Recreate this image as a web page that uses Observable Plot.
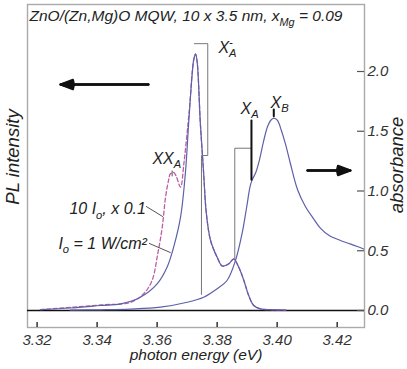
<!DOCTYPE html>
<html><head><meta charset="utf-8">
<script src="https://cdn.jsdelivr.net/npm/d3@7"></script>
<script src="https://cdn.jsdelivr.net/npm/@observablehq/plot@0.6"></script>
<style>
html,body{margin:0;padding:0;background:#fff}
#chart svg text, #chart svg tspan{font-style:italic}
</style>
</head><body><div id="chart"></div>
<script>
// ---- axis ticks ----
const xTicks = [3.32, 3.34, 3.36, 3.38, 3.40, 3.42];
const yTicks = [0, 0.5, 1.0, 1.5, 2.0];

// ---- PL spectrum, I0 = 1 W/cm^2 (solid) ----
const plE = [3.3211, 3.3311, 3.3411, 3.3478, 3.3544, 3.3600, 3.3633, 3.3655, 3.3678, 3.3694, 3.3705, 3.3717, 3.3722, 3.3728, 3.3733, 3.3744, 3.3755, 3.3764, 3.3778, 3.3800, 3.3817, 3.3839, 3.3855, 3.3872, 3.3889, 3.3905, 3.3922, 3.3944, 3.3978, 3.4028];
const plV = [0.008, 0.021, 0.042, 0.056, 0.111, 0.223, 0.362, 0.530, 0.781, 1.146, 1.565, 1.983, 2.10, 2.148, 2.09, 1.565, 1.146, 0.812, 0.586, 0.446, 0.372, 0.391, 0.431, 0.362, 0.251, 0.126, 0.042, 0.014, 0.007, 0.004];

// ---- PL spectrum, 10 I0 scaled x 0.1 (dashed) ----
const pl10E = [3.3211, 3.3411, 3.3511, 3.3555, 3.3583, 3.3602, 3.3617, 3.3628, 3.3638, 3.3644, 3.3655, 3.3664, 3.3678, 3.3689, 3.3699, 3.3708, 3.3717, 3.3722, 3.3728, 3.3733, 3.3744, 3.3755, 3.3764, 3.3778, 3.3800, 3.3817, 3.3839, 3.3855, 3.3872, 3.3889, 3.3905, 3.3922, 3.3944, 3.3978, 3.4028];
const pl10V = [0.008, 0.046, 0.069, 0.140, 0.251, 0.474, 0.697, 0.948, 1.088, 1.144, 1.155, 1.121, 1.032, 1.228, 1.464, 1.70, 2.00, 2.10, 2.145, 2.09, 1.565, 1.146, 0.812, 0.586, 0.446, 0.372, 0.391, 0.431, 0.362, 0.251, 0.126, 0.042, 0.014, 0.007, 0.004];

// ---- absorbance ----
const absE = [3.3311, 3.3411, 3.3511, 3.3611, 3.3700, 3.3755, 3.3800, 3.3833, 3.3861, 3.3883, 3.3898, 3.3910, 3.3917, 3.3928, 3.3940, 3.3955, 3.3968, 3.3978, 3.3989, 3.4001, 3.4014, 3.4028, 3.4044, 3.4068, 3.4094, 3.4122, 3.4144, 3.4172, 3.4211, 3.4267, 3.4288];
const absV = [0.003, 0.006, 0.012, 0.028, 0.069, 0.111, 0.182, 0.251, 0.418, 0.644, 0.860, 1.040, 1.095, 1.150, 1.250, 1.420, 1.540, 1.590, 1.610, 1.590, 1.506, 1.390, 1.230, 1.010, 0.870, 0.765, 0.690, 0.630, 0.586, 0.536, 0.515];

// ---- annotation lines (energy eV, value) ----
const markerId = ["XAm","XAm","XAm","XAm","XAm", "XApl","XApl","XApl"];
const markerE  = [3.37243, 3.37687, 3.37687, 3.37477, 3.37477, 3.38587, 3.38587, 3.39143];
const markerV  = [2.233, 2.233, 1.297, 1.297, 0.135, 0.430, 1.358, 1.358];

const strongId = ["XA","XA","XB","XB"];
const strongE  = [3.39143, 3.39143, 3.39887, 3.39887];
const strongV  = [1.590, 1.094, 1.682, 1.625];

const leaderId = ["L1","L1","L2","L2","XX","XX"];
const leaderE  = [3.3564, 3.3618, 3.3574, 3.3644, 3.3650, 3.3650];
const leaderV  = [0.870, 0.787, 0.561, 0.485, 1.168, 1.126];

// ---- arrows (PL axis to the left, absorbance axis to the right) ----
const arrowE1 = [3.3571, 3.4101];
const arrowE2 = [3.3278, 3.4244];
const arrowV  = [1.891, 1.172];
const headAngles = [12, 22, 32, 42];

// ---- labels ----
const labelText = ["XX_{A}", "10 I_{o}, x 0.1", "I_{o} = 1 W/cm²", "X_{A}^{-}", "X_{A}", "X_{B}"];
const labelE = [3.35843, 3.33077, 3.32710, 3.38043, 3.38777, 3.39777];
const labelV = [1.270, 0.848, 0.559, 2.199, 1.689, 1.739];

const title = "ZnO/(Zn,Mg)O MQW, 10 x 3.5 nm, x_{Mg} = 0.09";

const tbl = (E, V, extra) => E.map((e, i) => ({e, v: V[i], ...(extra ? {z: extra[i]} : {})}));

const blue = "#5d60a9";
const pink = "#bb5fa3";
const ink = "#222";
const it = {fontStyle: "italic"};
const arrows = arrowV.map((v, i) => ({x1: arrowE1[i], x2: arrowE2[i], v}));

const chart = Plot.plot({
  width: 407, height: 369,
  marginLeft: 27, marginRight: 43, marginTop: 4, marginBottom: 42,
  x: {domain: [3.3168, 3.4291]},
  y: {domain: [-0.1423, 2.5607]},
  style: {fontFamily: "'Liberation Sans', Arial, sans-serif", fontStyle: "italic", background: "#fff", color: ink},
  marks: [
    Plot.frame({stroke: "#aaaaaa", strokeWidth: 1.4}),
    Plot.ruleY([0], {stroke: "#111", strokeWidth: 1.4}),
    Plot.tickX(xTicks, {x: d => d, insetTop: 318, stroke: "#333", strokeWidth: 1.5}),
    Plot.tickY(yTicks, {y: d => d, insetLeft: 330, stroke: "#555", strokeWidth: 1.2}),
    Plot.axisX(xTicks, {tickSize: 0, tickPadding: 7, tickFormat: d3.format(".2f"), fontSize: 15, fill: "#333", label: null, ...it}),
    Plot.axisY(yTicks, {anchor: "right", tickSize: 0, tickPadding: 3, tickFormat: d3.format(".1f"), fontSize: 15, fill: "#333", label: null, ...it}),
    Plot.line(tbl(absE, absV), {x: "e", y: "v", stroke: blue, strokeWidth: 1.2, curve: "catmull-rom"}),
    Plot.line(tbl(pl10E, pl10V), {x: "e", y: "v", stroke: pink, strokeWidth: 1.3, strokeDasharray: "4,2.5", curve: "catmull-rom"}),
    Plot.line(tbl(plE, plV), {x: "e", y: "v", stroke: blue, strokeWidth: 1.2, curve: "catmull-rom"}),
    Plot.line(tbl(markerE, markerV, markerId), {x: "e", y: "v", z: "z", stroke: "#777", strokeWidth: 1}),
    Plot.line(tbl(strongE, strongV, strongId), {x: "e", y: "v", z: "z", stroke: "#111", strokeWidth: 2}),
    Plot.line(tbl(leaderE, leaderV, leaderId), {x: "e", y: "v", z: "z", stroke: "#555", strokeWidth: 1}),
    ...headAngles.map(a => Plot.arrow(arrows, {x1: "x1", x2: "x2", y1: "v", y2: "v", stroke: "#111", strokeWidth: 2, headLength: 10, headAngle: a})),
    Plot.text(labelText.map((t, i) => ({t, e: labelE[i], v: labelV[i]})), {x: "e", y: "v", text: "t", textAnchor: "start", lineAnchor: "middle", fontSize: 16, fill: ink, ...it}),
    Plot.text([title], {frameAnchor: "top-left", dx: 2, dy: 12, textAnchor: "start", lineAnchor: "middle", fontSize: 15.5, fill: ink, ...it}),
    Plot.text(["photon energy (eV)"], {frameAnchor: "bottom", dy: 28, textAnchor: "middle", lineAnchor: "middle", fontSize: 15.5, fill: ink, ...it}),
    Plot.text(["PL intensity"], {frameAnchor: "left", dx: -14, dy: -9, rotate: -90, textAnchor: "middle", lineAnchor: "middle", fontSize: 18.5, fill: ink, ...it}),
    Plot.text(["absorbance"], {frameAnchor: "right", dx: 33, dy: -1, rotate: -90, textAnchor: "middle", lineAnchor: "middle", fontSize: 18.5, fill: ink, ...it})
  ]
});
document.getElementById("chart").appendChild(chart);

// render _{sub} and ^{sup} markup as tspans (text stays real text)
const NS = "http://www.w3.org/2000/svg";
chart.querySelectorAll("text").forEach(t => {
  const s = t.textContent;
  if (!/[_^]\{/.test(s)) return;
  const fs = parseFloat(getComputedStyle(t).fontSize) || 15;
  const small = fs * 0.7;
  while (t.firstChild) t.removeChild(t.firstChild);
  const re = /_\{([^}]*)\}|\^\{([^}]*)\}|([^_^]+)/g;
  let m, shift = 0, lastSub = null;
  while ((m = re.exec(s))) {
    const ts = document.createElementNS(NS, "tspan");
    let target = 0;
    if (m[1] !== undefined) {
      ts.textContent = m[1];
      ts.setAttribute("font-size", small);
      target = 0.28 * fs;
    } else if (m[2] !== undefined) {
      ts.textContent = m[2];
      ts.setAttribute("font-size", small);
      target = -0.42 * fs;
      if (lastSub) ts.setAttribute("dx", -lastSub.getComputedTextLength());
    } else {
      ts.textContent = m[3];
      target = 0;
    }
    const d = target - shift;
    if (d !== 0) ts.setAttribute("dy", d);
    shift = target;
    t.appendChild(ts);
    lastSub = m[1] !== undefined ? ts : null;
  }
});
</script>
</body></html>
